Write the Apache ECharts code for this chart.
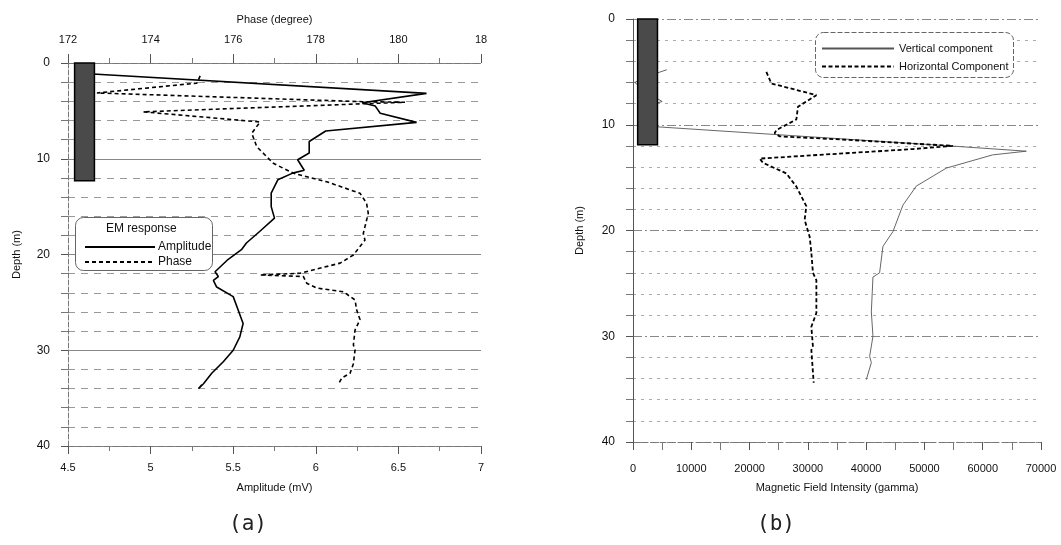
<!DOCTYPE html>
<html>
<head>
<meta charset="utf-8">
<title>EM response and magnetic field vs depth</title>
<script src="https://cdn.jsdelivr.net/npm/echarts@6/dist/echarts.min.js"></script>
<style>
  html, body { margin: 0; padding: 0; background: #fff; }
  #chart { width: 1061px; height: 545px; }
</style>
</head>
<body>
<div id="chart"></div>
<script>
// (a) EM response: amplitude (mV) and phase (degree) against depth (m)
var ampDepth  = [1.15, 3.17, 4.15, 4.5, 5.25, 6.2, 7.1, 8.2, 9.4, 10.1, 11.2, 11.5, 12.2, 13.6, 15.0, 16.2, 17.6, 18.8, 19.5, 20.5, 21.8, 22.3, 22.7, 23.4, 24.4, 25.8, 27.2, 28.6, 30.0, 31.2, 32.4, 33.5, 34.0, 33.6];
var ampValues = [4.65, 6.67, 6.28, 6.36, 6.39, 6.61, 6.06, 5.96, 5.96, 5.89, 5.93, 5.86, 5.77, 5.73, 5.73, 5.75, 5.66, 5.58, 5.55, 5.47, 5.39, 5.41, 5.38, 5.40, 5.50, 5.53, 5.56, 5.54, 5.50, 5.44, 5.37, 5.32, 5.29, 5.31];

var phaseDepth  = [1.35, 2.1, 3.13, 4.04, 4.1, 5.1, 6.16, 7.34, 8.74, 10.47, 11.52, 12.4, 13.6, 14.65, 15.7, 17.8, 18.5, 20.05, 20.9, 21.96, 22.14, 22.3, 23.0, 23.5, 23.9, 24.75, 25.8, 26.8, 27.9, 29.45, 29.97, 31.4, 32.4, 32.9, 33.6];
var phaseValues = [175.2, 175.12, 172.7, 179.14, 180.16, 173.82, 176.65, 176.45, 176.57, 176.97, 177.46, 178.26, 179.07, 179.23, 179.27, 179.15, 179.19, 178.91, 178.59, 177.62, 176.65, 177.70, 177.78, 178.02, 178.67, 178.95, 178.99, 179.07, 178.95, 178.91, 178.95, 178.91, 178.83, 178.63, 178.54];

// (b) magnetic field intensity (gamma) against depth (m)
var vertDepth  = [4.8, 5.5, 6.0, 7.0, 7.8, 8.3, 9.5, 10.2, 12.0, 12.5, 12.85, 14.1, 15.8, 17.6, 20.1, 21.5, 24.0, 24.4, 27.7, 30.0, 31.9, 32.5, 34.1];
var vertValues = [5800, 2000, 300, 2500, 5000, 2000, 3000, 4290, 54320, 67480, 61700, 53760, 48610, 46310, 44600, 42880, 42310, 41170, 40890, 41170, 40600, 40890, 40030];

var horizDepth  = [5.0, 6.1, 7.2, 8.3, 9.5, 10.5, 10.8, 11.1, 11.4, 12.0, 12.3, 13.2, 13.6, 14.6, 15.85, 17.7, 19.0, 20.6, 22.1, 24.0, 24.7, 27.8, 29.1, 31.0, 31.3, 34.4];
var horizValues = [22880, 23740, 31460, 28300, 28030, 24600, 24300, 25160, 36020, 54890, 48030, 21730, 22300, 26310, 28030, 29740, 29450, 30310, 30600, 30870, 31460, 31460, 30600, 30870, 30600, 31000];

// borehole casing columns: [x from, x to, depth top, depth bottom]
var casingA = [4.54, 4.66, 0, 12.3];
var casingB = [800, 4200, 0, 11.9];

function pairs(xs, ds) {
    return xs.map(function (v, i) { return [v, ds[i]]; });
}

var chart = echarts.init(document.getElementById('chart'));
var font = 'Liberation Sans, Arial, sans-serif';
var txt = '#111';

function casingItem(params, api) {
    var p0 = api.coord([api.value(0), api.value(2)]);
    var p1 = api.coord([api.value(1), api.value(3)]);
    return {
        type: 'rect',
        shape: { x: p0[0], y: p0[1], width: p1[0] - p0[0], height: p1[1] - p0[1] },
        style: { fill: '#4a4a4a', stroke: '#000', lineWidth: 1.5 }
    };
}

var depthAxisBase = {
    type: 'value', inverse: true, min: 0, max: 40, interval: 10,
    name: 'Depth (m)', nameLocation: 'middle',
    nameTextStyle: { color: txt, fontSize: 11, fontFamily: font },
    axisLabel: { color: txt, fontSize: 12, fontFamily: font, margin: 18 },
    axisTick: { length: 7, lineStyle: { color: '#555' } },
    minorTick: { show: true, splitNumber: 5, length: 7, lineStyle: { color: '#777' } }
};

var option = {
    animation: false,
    backgroundColor: '#fff',
    textStyle: { fontFamily: font },
    grid: [
        { left: 68, top: 63, width: 413, height: 383 },
        { left: 633, top: 19, width: 408, height: 423 }
    ],
    xAxis: [
        {
            gridIndex: 0, type: 'value', position: 'bottom', min: 4.5, max: 7, interval: 0.5,
            name: 'Amplitude (mV)', nameLocation: 'middle', nameGap: 36,
            nameTextStyle: { color: txt, fontSize: 11, fontFamily: font },
            axisLine: { onZero: false, lineStyle: { color: '#777', type: [6, 3] } },
            axisTick: { length: 8, lineStyle: { color: '#555' } },
            minorTick: { show: true, splitNumber: 2, length: 5, lineStyle: { color: '#777' } },
            axisLabel: { color: txt, fontSize: 11, fontFamily: font, margin: 16 },
            splitLine: { show: false }
        },
        {
            gridIndex: 0, type: 'value', position: 'top', min: 172, max: 182, interval: 2,
            name: 'Phase (degree)', nameLocation: 'middle', nameGap: 38,
            nameTextStyle: { color: txt, fontSize: 11, fontFamily: font },
            axisLine: { onZero: false, lineStyle: { color: '#777', type: [6, 3] } },
            axisTick: { length: 9, lineStyle: { color: '#555' } },
            minorTick: { show: true, splitNumber: 2, length: 5, lineStyle: { color: '#777' } },
            axisLabel: {
                color: txt, fontSize: 11, fontFamily: font, margin: 18,
                formatter: function (v) { return v === 182 ? '18' : String(v); }
            },
            splitLine: { show: false }
        },
        {
            gridIndex: 1, type: 'value', position: 'bottom', min: 0, max: 70000, interval: 10000,
            name: 'Magnetic Field Intensity (gamma)', nameLocation: 'middle', nameGap: 40,
            nameTextStyle: { color: txt, fontSize: 11, fontFamily: font },
            axisLine: { onZero: false, lineStyle: { color: '#777', type: [6, 3] } },
            axisTick: { length: 8, lineStyle: { color: '#555' } },
            minorTick: { show: true, splitNumber: 2, length: 8, lineStyle: { color: '#777' } },
            axisLabel: {
                color: txt, fontSize: 11, fontFamily: font, margin: 21,
                formatter: function (v) { return String(v); }
            },
            splitLine: { show: false }
        }
    ],
    yAxis: [
        Object.assign({}, depthAxisBase, {
            gridIndex: 0, nameGap: 46,
            axisLine: { onZero: false, lineStyle: { color: '#777', type: [5, 2] } },
            splitLine: { show: true, lineStyle: { color: '#888', width: 1 } },
            minorSplitLine: { show: true, lineStyle: { color: '#999', type: [7, 6] } }
        }),
        Object.assign({}, depthAxisBase, {
            gridIndex: 1, nameGap: 48,
            axisLine: { onZero: false, lineStyle: { color: '#555' } },
            splitLine: { show: true, lineStyle: { color: '#888', type: [9, 3, 2, 3] } },
            minorSplitLine: { show: true, lineStyle: { color: '#aaa', type: [3, 5] } }
        })
    ],
    legend: [
        {
            left: 79, top: 236, orient: 'vertical', itemWidth: 70, itemHeight: 10, itemGap: 3,
            data: ['Amplitude', 'Phase'],
            itemStyle: { opacity: 0 },
            textStyle: { color: txt, fontSize: 12, fontFamily: font, padding: [0, 0, 0, -2] }
        },
        {
            left: 816, top: 38, orient: 'vertical', itemWidth: 72, itemHeight: 10, itemGap: 7,
            data: ['Vertical component', 'Horizontal Component'],
            itemStyle: { opacity: 0 },
            textStyle: { color: txt, fontSize: 11, fontFamily: font }
        }
    ],
    graphic: [
        {
            type: 'rect', z: 3, left: 75, top: 217,
            shape: { width: 137, height: 53, r: 8 },
            style: { fill: '#fff', stroke: '#666', lineWidth: 1 }
        },
        {
            type: 'text', z: 5, left: 106, top: 223,
            style: { text: 'EM response', fill: txt, fontSize: 12, fontFamily: font }
        },
        {
            type: 'rect', z: 3, left: 815, top: 32,
            shape: { width: 198, height: 45, r: 8 },
            style: { fill: '#fff', stroke: '#666', lineWidth: 1, lineDash: [5, 2] }
        },
        {
            type: 'text', z: 5, left: 229, top: 514,
            style: { text: '(a)', fill: '#222', fontSize: 21, fontFamily: 'DejaVu Sans Mono, monospace' }
        },
        {
            type: 'text', z: 5, left: 757, top: 514,
            style: { text: '(b)', fill: '#222', fontSize: 21, fontFamily: 'DejaVu Sans Mono, monospace' }
        }
    ],
    series: [
        {
            name: 'Amplitude', type: 'line', xAxisIndex: 0, yAxisIndex: 0,
            symbol: 'none', data: pairs(ampValues, ampDepth), z: 4,
            lineStyle: { color: '#000', width: 1.6 }, itemStyle: { color: '#000' }
        },
        {
            name: 'Phase', type: 'line', xAxisIndex: 1, yAxisIndex: 0,
            symbol: 'none', data: pairs(phaseValues, phaseDepth), z: 4,
            lineStyle: { color: '#000', width: 1.6, type: [4, 3] }, itemStyle: { color: '#000' }
        },
        {
            name: 'casingA', type: 'custom', xAxisIndex: 0, yAxisIndex: 0, z: 6,
            renderItem: casingItem, data: [casingA], encode: { x: [0, 1], y: [2, 3] }
        },
        {
            name: 'Vertical component', type: 'line', xAxisIndex: 2, yAxisIndex: 1,
            symbol: 'none', data: pairs(vertValues, vertDepth), z: 4,
            lineStyle: { color: '#555', width: 0.9 }, itemStyle: { color: '#555' }
        },
        {
            name: 'Horizontal Component', type: 'line', xAxisIndex: 2, yAxisIndex: 1,
            symbol: 'none', data: pairs(horizValues, horizDepth), z: 4,
            lineStyle: { color: '#000', width: 1.8, type: [4, 2.5] }, itemStyle: { color: '#000' }
        },
        {
            name: 'casingB', type: 'custom', xAxisIndex: 2, yAxisIndex: 1, z: 6,
            renderItem: casingItem, data: [casingB], encode: { x: [0, 1], y: [2, 3] }
        }
    ]
};

chart.setOption(option);
window.addEventListener('resize', function () { chart.resize(); });
</script>
</body>
</html>
